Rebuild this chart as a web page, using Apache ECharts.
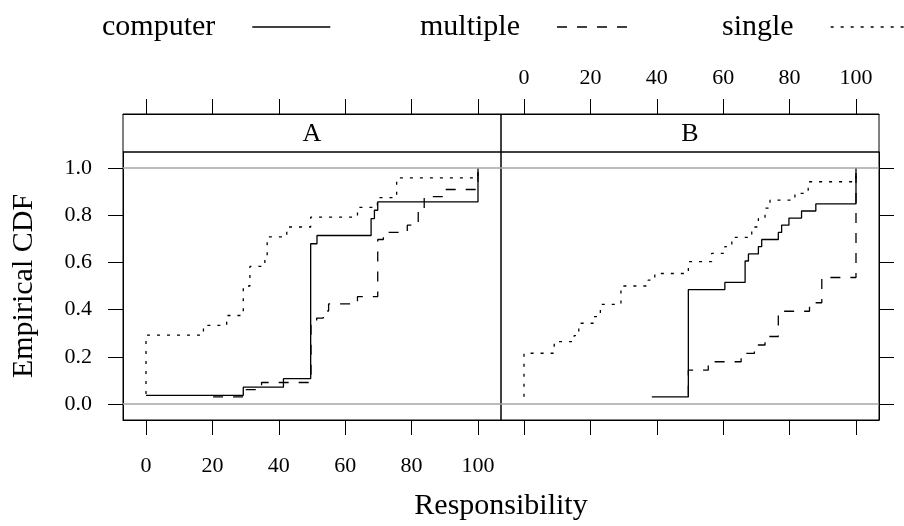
<!DOCTYPE html>
<html>
<head>
<meta charset="utf-8">
<script src="https://cdn.jsdelivr.net/npm/echarts@6/dist/echarts.min.js"></script>
<style>html,body{margin:0;padding:0;background:#fff}#c{width:904px;height:526px}</style>
</head>
<body>
<div id="c"></div>
<script>
// ---- data ----
const panels = ['A', 'B'];
const groups = ['computer', 'multiple', 'single'];
const xTicks = [0, 20, 40, 60, 80, 100];
const yTicks = [0, 0.2, 0.4, 0.6, 0.8, 1.0];

const A_computer_x = [0, 29.3, 41.4, 49.6, 51.5, 67.8, 68.8, 69.8, 100];
const A_computer_y = [0.036, 0.071, 0.107, 0.679, 0.714, 0.786, 0.821, 0.857, 1.0];
const A_multiple_x = [20.2, 29.5, 34.8, 49.7, 51.4, 53.4, 55.0, 63.7, 69.8, 71.5, 78.7, 82.0, 83.8, 89.8, 100];
const A_multiple_y = [0.030, 0.061, 0.091, 0.333, 0.364, 0.394, 0.424, 0.455, 0.697, 0.727, 0.758, 0.818, 0.879, 0.909, 1.0];
const A_single_x = [0, 0, 17.3, 24.3, 29.3, 31.3, 35.8, 36.5, 42.4, 49.6, 63.7, 69.7, 75.5, 100];
const A_single_y = [0.042, 0.292, 0.333, 0.375, 0.5, 0.583, 0.625, 0.708, 0.75, 0.792, 0.833, 0.875, 0.958, 1.0];

const B_computer_x = [38.5, 49.5, 60.5, 66.6, 67.6, 70.6, 71.6, 76.6, 77.6, 79.8, 83.6, 87.9, 100];
const B_computer_y = [0.030, 0.485, 0.515, 0.606, 0.636, 0.667, 0.697, 0.727, 0.758, 0.788, 0.818, 0.848, 1.0];
const B_multiple_x = [49.5, 49.5, 55.5, 65.4, 69.4, 72.6, 76.6, 86.0, 89.7, 100];
const B_multiple_y = [0.036, 0.143, 0.179, 0.214, 0.25, 0.286, 0.393, 0.429, 0.536, 1.0];
const B_single_x = [0, 0, 9.1, 15.1, 16.5, 21.0, 23.0, 29.2, 37.4, 39.4, 49.5, 56.5, 60.5, 62.6, 68.6, 70.6, 72.6, 74.1, 81.6, 85.6, 100];
const B_single_y = [0.031, 0.215, 0.264, 0.29, 0.342, 0.37, 0.422, 0.5, 0.525, 0.553, 0.603, 0.638, 0.667, 0.706, 0.75, 0.786, 0.83, 0.864, 0.893, 0.942, 1.0];

const dataSets = {
  A: { computer: [A_computer_x, A_computer_y], multiple: [A_multiple_x, A_multiple_y], single: [A_single_x, A_single_y] },
  B: { computer: [B_computer_x, B_computer_y], multiple: [B_multiple_x, B_multiple_y], single: [B_single_x, B_single_y] }
};

// ---- styling ----
const FONT = '"Liberation Serif", "DejaVu Serif", serif';
const lineTypes = { computer: 'solid', multiple: [10, 10], single: [3, 7] };
const XMIN = -6.93, XMAX = 106.93, YMIN = -0.068, YMAX = 1.068;

const chart = echarts.init(document.getElementById('c'), null, { renderer: 'canvas' });

function xAxisDef(grid, pos, showLabel, margin) {
  return {
    type: 'value', gridIndex: grid, position: pos, min: XMIN, max: XMAX,
    offset: pos === 'top' ? 38 : 0,
    splitLine: { show: false },
    axisLine: { show: true, onZero: false, lineStyle: { color: '#000', width: 1 } },
    axisTick: { show: true, length: 15, inside: false, customValues: xTicks, lineStyle: { color: '#000', width: 1 } },
    axisLabel: { show: showLabel, customValues: xTicks, margin: margin, color: '#000', fontFamily: FONT, fontSize: 22 }
  };
}
function yAxisDef(grid, pos, showLabel) {
  return {
    type: 'value', gridIndex: grid, position: pos, min: YMIN, max: YMAX,
    splitLine: { show: false },
    axisLine: { show: true, onZero: false, lineStyle: { color: '#000', width: 1 } },
    axisTick: { show: true, length: 15, inside: false, customValues: yTicks, lineStyle: { color: '#000', width: 1 } },
    axisLabel: { show: showLabel, customValues: yTicks, margin: 31, color: '#000', fontFamily: FONT, fontSize: 22,
      formatter: v => v.toFixed(1) },
    name: showLabel ? 'Empirical CDF' : '', nameLocation: 'middle', nameGap: 84, nameRotate: 90,
    nameTextStyle: { color: '#000', fontFamily: FONT, fontSize: 30 }
  };
}

const series = [];
panels.forEach((p, pi) => {
  groups.forEach((g, gi) => {
    const [xs, ys] = dataSets[p][g];
    const s = {
      name: g, type: 'line', step: 'end', xAxisIndex: pi === 0 ? 0 : 2, yAxisIndex: pi,
      data: xs.map((x, i) => [x, ys[i]]),
      symbol: 'none', showSymbol: false, animation: false, silent: true,
      lineStyle: { color: '#000', width: 1.3, type: lineTypes[g] },
      itemStyle: { color: '#000' }, z: 3
    };
    if (gi === 0) {
      s.markLine = { silent: true, symbol: 'none', label: { show: false }, animation: false,
        lineStyle: { color: '#a6a6a6', width: 1.5, type: 'solid' },
        data: [{ yAxis: 0 }, { yAxis: 1 }] };
    }
    series.push(s);
  });
});

const legendBase = {
  orient: 'horizontal', align: 'right', itemWidth: 78, itemHeight: 14,
  itemStyle: { opacity: 0 },
  lineStyle: { color: '#000', width: 1.3 },
  textStyle: { color: '#000', fontFamily: FONT, fontSize: 30, padding: [0, 32, 0, 0] },
  selectedMode: false, top: 7
};

chart.setOption({
  animation: false,
  backgroundColor: '#fff',
  grid: [
    { left: 123, top: 152, width: 378, height: 268, show: true, borderColor: '#000', borderWidth: 1, backgroundColor: 'transparent' },
    { left: 501, top: 152, width: 378, height: 268, show: true, borderColor: '#000', borderWidth: 1, backgroundColor: 'transparent' }
  ],
  xAxis: [
    xAxisDef(0, 'bottom', true, 35),
    xAxisDef(0, 'top', false, 12),
    xAxisDef(1, 'top', true, 25),
    xAxisDef(1, 'bottom', false, 12)
  ],
  yAxis: [ yAxisDef(0, 'left', true), yAxisDef(1, 'right', false) ],
  legend: [
    Object.assign({}, legendBase, { data: ['computer'], left: 97 }),
    Object.assign({}, legendBase, { data: ['multiple'], left: 415 }),
    Object.assign({}, legendBase, { data: ['single'], left: 717, itemWidth: 90 })
  ],
  graphic: [
    { type: 'rect', shape: { x: 123, y: 114, width: 378, height: 38 }, style: { fill: 'none', stroke: '#000', lineWidth: 1 }, z: 10 },
    { type: 'rect', shape: { x: 501, y: 114, width: 378, height: 38 }, style: { fill: 'none', stroke: '#000', lineWidth: 1 }, z: 10 },
    { type: 'text', x: 312, y: 134, style: { text: panels[0], fill: '#000', font: '26px ' + FONT, textAlign: 'center', textVerticalAlign: 'middle' }, z: 10 },
    { type: 'text', x: 690, y: 134, style: { text: panels[1], fill: '#000', font: '26px ' + FONT, textAlign: 'center', textVerticalAlign: 'middle' }, z: 10 },
    { type: 'text', x: 501, y: 506, style: { text: 'Responsibility', fill: '#000', font: '30px ' + FONT, textAlign: 'center', textVerticalAlign: 'middle' }, z: 10 }
  ],
  series: series
});
</script>
</body>
</html>
